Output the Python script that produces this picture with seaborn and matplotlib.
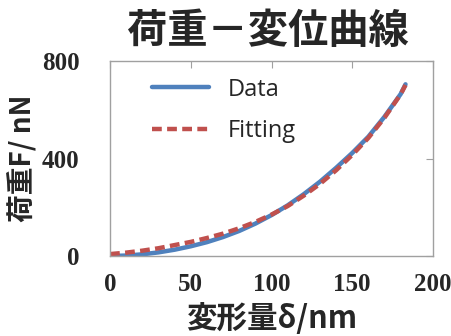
import pandas as pd
import matplotlib
matplotlib.use("Agg")
import matplotlib.pyplot as plt
import seaborn as sns

# values
delta = [0, 10, 20, 30, 40, 50, 60, 70, 80, 90, 100, 110, 120, 130, 140, 150, 160, 170, 180, 183]
load_data = [0, 2, 7, 15, 26, 40, 57, 78, 103, 133, 168, 208, 254, 305, 362, 423, 490, 572, 665, 705]
load_fit = [8, 14, 22, 32, 45, 58, 74, 92, 114, 140, 170, 205, 248, 296, 352, 415, 485, 568, 664, 702]
xticks = [0, 50, 100, 150, 200]
yticks = [0, 400, 800]

df = pd.DataFrame({"delta": delta, "Data": load_data, "Fitting": load_fit})

sns.set_style("white")
plt.rcParams['font.family'] = ['Noto Sans CJK JP', 'DejaVu Sans']

fig = plt.figure(figsize=(4.51, 3.36), dpi=100)
ax = fig.add_axes([0.244, 0.238, 0.716, 0.58])

sns.lineplot(data=df, x="delta", y="Data", ax=ax, color="#4F81BD", lw=3.2, label="Data")
sns.lineplot(data=df, x="delta", y="Fitting", ax=ax, color="#C0504D", lw=3.2,
             dashes=False, label="Fitting")
ax.lines[1].set_dashes([2.2, 1.2])

ax.set_xlim(0, 200)
ax.set_ylim(0, 800)
ax.set_xticks(xticks)
ax.set_yticks(yticks)
ax.set_xticklabels([str(t) for t in xticks], family="Liberation Serif", weight="bold", fontsize=18)
ax.set_yticklabels([str(t) for t in yticks], family="Liberation Serif", weight="bold", fontsize=18)
ax.tick_params(direction="in", length=5, color="#A0A0A0", top=True, right=True)
ax.tick_params(axis="x", pad=12)
ax.tick_params(axis="y", pad=22)
for s in ax.spines.values():
    s.set_color("#A0A0A0")
    s.set_linewidth(1.0)

ax.set_xlabel("変形量δ/nm", fontsize=22, weight="bold", labelpad=5)
ax.set_ylabel("荷重F/ nN", fontsize=20, weight="bold", labelpad=3)
fig.text(0.593, 0.905, "荷重－変位曲線", fontsize=29, weight="bold", ha="center", va="center")

leg = ax.legend(loc="upper left", frameon=False, handlelength=2.4,
                prop={"family": "Open Sans", "size": 17}, borderaxespad=0.3,
                bbox_to_anchor=(0.08, 1.0), labelspacing=0.75, handletextpad=0.8)

fig.savefig("out.png", dpi=100)
